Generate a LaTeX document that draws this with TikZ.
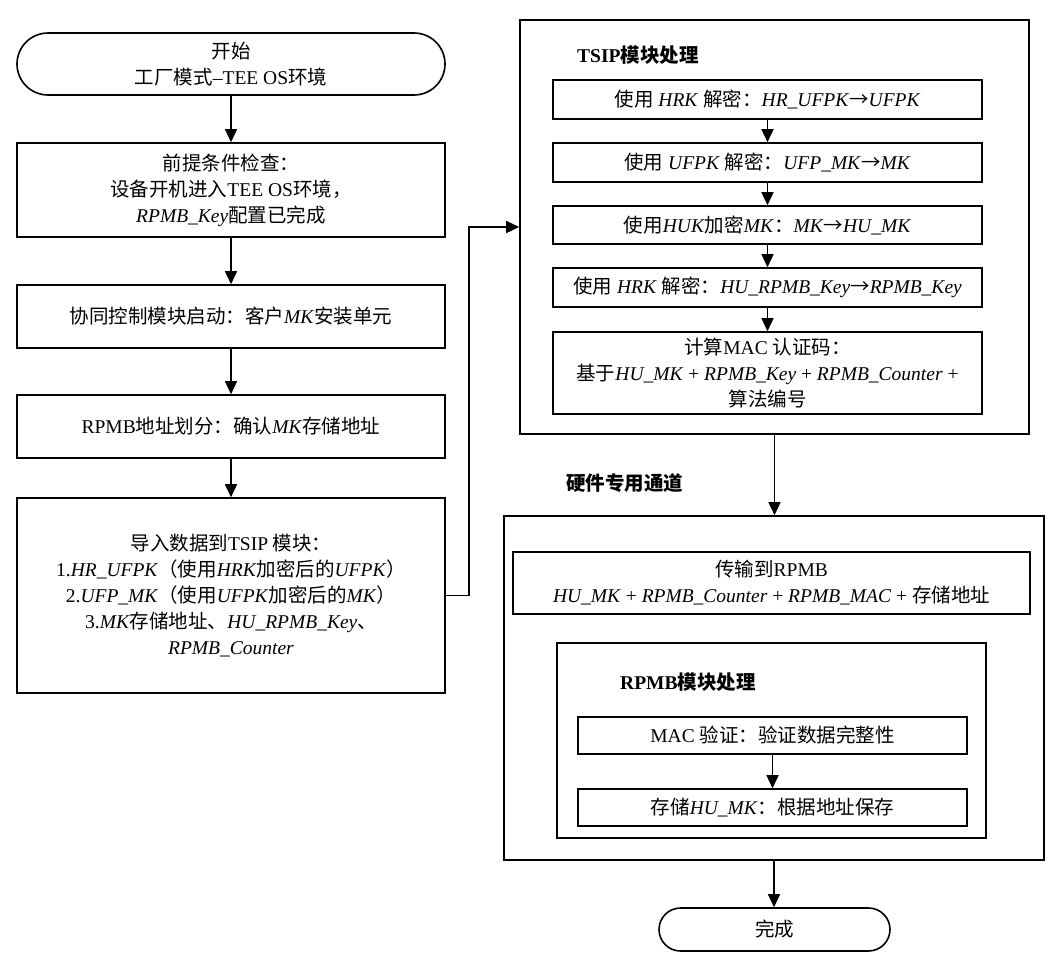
\documentclass[tikz,border=0pt]{standalone}
\usepackage{fontspec}
\setmainfont{Liberation Serif}
\newfontfamily\cjkfont{Noto Sans CJK SC}
\newcommand\zh[1]{{\cjkfont #1}}
\newcommand\mainsz{\fontsize{19.5}{26}\selectfont}
\usetikzlibrary{arrows.meta}
\begin{document}
\begin{tikzpicture}[x=1pt,y=-1pt,
  box/.style={draw, line width=1.6pt, inner sep=0pt, align=center, font=\mainsz},
  term/.style={box},
  ttl/.style={anchor=west, inner sep=0pt, font=\mainsz\bfseries},
  arr/.style={line width=1.5pt, -{Triangle[length=13pt,width=12pt]}}]
\useasboundingbox (0,0) rectangle (1056,969);

% left column
\node[term, rounded corners=31pt, minimum width=428pt, minimum height=62pt] (start) at (231,64)
  {\zh{开始}\\\zh{工厂模式}–TEE OS\zh{环境}};
\node[box, minimum width=428pt, minimum height=94pt] (pre) at (231,190)
  {\zh{前提条件检查：}\\\zh{设备开机进入}TEE OS\zh{环境，}\\\textit{RPMB\_Key}\zh{配置已完成}};
\node[box, minimum width=428pt, minimum height=63pt] (coop) at (231,316.5)
  {\zh{协同控制模块启动：客户}\textit{MK}\zh{安装单元}};
\node[box, minimum width=428pt, minimum height=63pt] (addr) at (231,426.5)
  {RPMB\zh{地址划分：确认}\textit{MK}\zh{存储地址}};
\node[box, minimum width=428pt, minimum height=195pt] (imp) at (231,595.5)
  {\zh{导入数据到}TSIP \zh{模块：}\\
   1.\textit{HR\_UFPK}\zh{（使用}\textit{HRK}\zh{加密后的}\textit{UFPK}\zh{）}\\
   2.\textit{UFP\_MK}\zh{（使用}\textit{UFPK}\zh{加密后的}\textit{MK}\zh{）}\\
   3.\textit{MK}\zh{存储地址、}\textit{HU\_RPMB\_Key}\zh{、}\\
   \textit{RPMB\_Counter}};

\draw[arr] (start) -- (pre);
\draw[arr] (pre) -- (coop);
\draw[arr] (coop) -- (addr);
\draw[arr] (addr) -- (imp);

% TSIP module
\node[box, minimum width=509pt, minimum height=414pt] (tsip) at (774.5,227) {};
\node[ttl] (tsipttl) at (577,55) {TSIP\zh{模块处理}};
\node[box, minimum width=429pt, minimum height=39pt] (t1) at (767.5,99.5)
  {\zh{使用} \textit{HRK} \zh{解密：}\textit{HR\_UFPK}\zh{→}\textit{UFPK}};
\node[box, minimum width=429pt, minimum height=39pt] (t2) at (767.5,162.5)
  {\zh{使用} \textit{UFPK} \zh{解密：}\textit{UFP\_MK}\zh{→}\textit{MK}};
\node[box, minimum width=429pt, minimum height=38pt] (t3) at (767.5,225)
  {\zh{使用}\textit{HUK}\zh{加密}\textit{MK}\zh{：}\textit{MK}\zh{→}\textit{HU\_MK}};
\node[box, minimum width=429pt, minimum height=39pt] (t4) at (767.5,287.5)
  {\zh{使用} \textit{HRK} \zh{解密：}\textit{HU\_RPMB\_Key}\zh{→}\textit{RPMB\_Key}};
\node[box, minimum width=429pt, minimum height=82pt] (t5) at (767.5,373)
  {\zh{计算}MAC \zh{认证码：}\\
   \zh{基于}\textit{HU\_MK} + \textit{RPMB\_Key} + \textit{RPMB\_Counter} +\\
   \zh{算法编号}};
\draw[arr] (t1) -- (t2);
\draw[arr] (t2) -- (t3);
\draw[arr] (t3) -- (t4);
\draw[arr] (t4) -- (t5);

\coordinate (bend) at (469,595.5);
\draw[arr] (imp.east) -- (bend) |- (tsip.west);

% hardware channel
\node[ttl] (hwttl) at (566,483) {\zh{硬件专用通道}};
\node[box, minimum width=540pt, minimum height=344pt] (hw) at (774,688) {};
\node[box, minimum width=517pt, minimum height=62pt] (tr) at (771.5,583)
  {\zh{传输到}RPMB\\
   \textit{HU\_MK} + \textit{RPMB\_Counter} + \textit{RPMB\_MAC} + \zh{存储地址}};
\node[box, minimum width=429pt, minimum height=195pt] (rp) at (771.5,740.5) {};
\node[ttl] (rpttl) at (620,682) {RPMB\zh{模块处理}};
\node[box, minimum width=389pt, minimum height=37pt] (mac) at (772.5,735.5)
  {MAC \zh{验证：验证数据完整性}};
\node[box, minimum width=389pt, minimum height=37pt] (st) at (772.5,807.5)
  {\zh{存储}\textit{HU\_MK}\zh{：根据地址保存}};
\draw[arr] (mac) -- (st);

\draw[arr] (tsip.south) -- (tsip.south |- hw.north);

\node[term, rounded corners=21.5pt, minimum width=231pt, minimum height=43pt] (end) at (774.5,929.5)
  {\zh{完成}};
\draw[arr] (hw.south) -- (hw.south |- end.north);
\end{tikzpicture}
\end{document}
